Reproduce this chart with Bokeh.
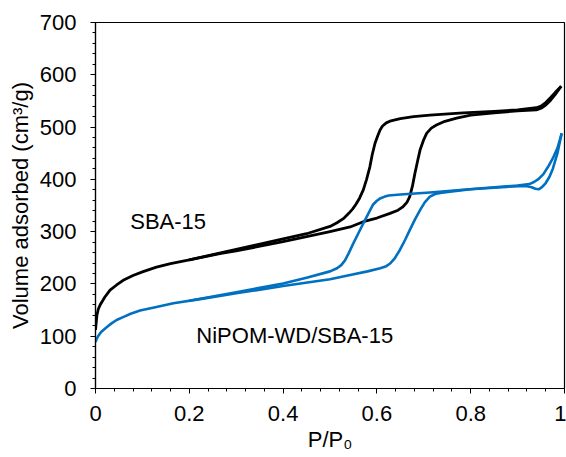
from bokeh.plotting import figure
from bokeh.models import Range1d, FixedTicker, Label
from bokeh.embed import file_html
from bokeh.resources import INLINE

# SBA-15 adsorption branch
sba_ads_x = [0.0, 0.003, 0.006, 0.01, 0.02, 0.031, 0.045, 0.059, 0.08, 0.1, 0.13, 0.16,
             0.2, 0.265, 0.3, 0.4, 0.5, 0.543, 0.571, 0.6, 0.628, 0.645, 0.656, 0.664,
             0.67, 0.676, 0.681, 0.687, 0.692, 0.699, 0.706, 0.716, 0.727, 0.745, 0.77,
             0.8, 0.85, 0.9, 0.94, 0.95, 0.96, 0.97, 0.98, 0.993]
sba_ads_y = [112, 140, 152, 160, 175, 188, 198, 207, 216, 223, 232, 239,
             246, 258, 263, 281, 300, 309, 319, 326, 335, 341, 348, 356,
             367, 388, 411, 436, 456, 474, 488, 498, 504, 511, 517,
             523, 527, 531, 533, 536, 542, 551, 562, 578]
# SBA-15 desorption branch
sba_des_x = [0.993, 0.98, 0.97, 0.96, 0.95, 0.94, 0.9, 0.85, 0.784, 0.713, 0.678, 0.65,
             0.63, 0.62, 0.612, 0.607, 0.602, 0.596, 0.59, 0.585, 0.578, 0.571, 0.563,
             0.555, 0.548, 0.54, 0.53, 0.515, 0.5, 0.45, 0.4, 0.3, 0.25, 0.2]
sba_des_y = [578, 566, 556, 547, 540, 537, 533, 530, 527, 523, 520, 516,
             512, 508, 502, 495, 484, 469, 447, 424, 400, 380, 364,
             352, 343, 335, 326, 317, 310, 296, 286, 266, 256, 246]
# NiPOM-WD/SBA-15 adsorption branch
ni_ads_x = [0.0, 0.003, 0.007, 0.012, 0.017, 0.025, 0.035, 0.045, 0.06, 0.075, 0.095,
            0.13, 0.166, 0.223, 0.265, 0.3, 0.4, 0.5, 0.543, 0.58, 0.607, 0.62, 0.628,
            0.638, 0.649, 0.66, 0.67, 0.681, 0.692, 0.702, 0.713, 0.724, 0.735, 0.76,
            0.8, 0.85, 0.9, 0.92, 0.93, 0.938, 0.945, 0.952, 0.96, 0.968, 0.975, 0.985,
            0.994]
ni_ads_y = [89, 96, 102, 108, 112, 118, 125, 131, 137, 143, 149,
            156, 163, 171, 177, 182, 196, 209, 217, 224, 230, 234, 239,
            249, 265, 284, 303, 323, 341, 356, 367, 372, 374, 377,
            381, 384, 387, 387, 385, 382, 381, 385, 393, 405, 420, 450,
            488]
# NiPOM-WD/SBA-15 desorption branch
ni_des_x = [0.994, 0.985, 0.975, 0.965, 0.955, 0.945, 0.935, 0.925, 0.9, 0.85, 0.784,
            0.713, 0.65, 0.625, 0.617, 0.608, 0.6, 0.592, 0.582, 0.571, 0.56, 0.55, 0.54,
            0.532, 0.524, 0.515, 0.5, 0.45, 0.4, 0.3, 0.2]
ni_des_y = [488, 460, 440, 424, 410, 401, 395, 391, 388, 385, 380,
            375, 371, 369, 367, 364, 359, 352, 335, 316, 296, 278, 259,
            245, 236, 230, 224, 212, 201, 184, 168]

x_ticks = [0, 0.2, 0.4, 0.6, 0.8, 1.0]
x_tick_labels = ["0", "0.2", "0.4", "0.6", "0.8", "1"]
y_ticks = [0, 100, 200, 300, 400, 500, 600, 700]

FONT = "Liberation Sans"
FS = "22px"
BLUE = "#0070C0"

p = figure(width=566, height=457, output_backend="svg", toolbar_location=None,
           x_range=Range1d(0, 1), y_range=Range1d(0, 700),
           min_border_left=95, min_border_right=2, min_border_top=22, min_border_bottom=69)
p.grid.visible = False
p.outline_line_color = "black"
p.outline_line_width = 1.2
p.background_fill_color = "white"
p.border_fill_color = "white"

p.line(sba_ads_x, sba_ads_y, line_color="black", line_width=2.8, line_join="round")
p.line(sba_des_x, sba_des_y, line_color="black", line_width=2.8, line_join="round")
p.line(ni_ads_x, ni_ads_y, line_color=BLUE, line_width=2.6, line_join="round")
p.line(ni_des_x, ni_des_y, line_color=BLUE, line_width=2.6, line_join="round")

minor_x = [round(i * 0.04, 2) for i in range(26)]
minor_y = [i * 20 for i in range(36)]
p.xaxis.ticker = FixedTicker(ticks=x_ticks, minor_ticks=minor_x)
p.yaxis.ticker = FixedTicker(ticks=y_ticks, minor_ticks=minor_y)
p.xaxis.major_label_overrides = {t: l for t, l in zip(x_ticks, x_tick_labels)}

for ax in (p.xaxis[0], p.yaxis[0]):
    ax.axis_line_color = "black"
    ax.axis_line_width = 1.2
    ax.major_tick_line_color = "black"
    ax.minor_tick_line_color = "black"
    ax.major_tick_in = 0
    ax.major_tick_out = 5
    ax.minor_tick_in = 0
    ax.minor_tick_out = 3
    ax.major_label_text_font = FONT
    ax.major_label_text_font_size = FS
    ax.major_label_text_color = "black"
    ax.axis_label_text_font = FONT
    ax.axis_label_text_font_size = FS
    ax.axis_label_text_font_style = "normal"
    ax.axis_label_text_color = "black"

p.xaxis.axis_label = "P/P\u2080"
p.yaxis.axis_label = "Volume adsorbed (cm\u00b3/g)"
p.xaxis.major_label_standoff = 12
p.xaxis.axis_label_standoff = 3
p.yaxis.major_label_standoff = 14
p.yaxis.axis_label_standoff = 4

p.add_layout(Label(x=0.074, y=320, text="SBA-15", text_font=FONT, text_font_size=FS,
                   text_color="black", text_baseline="alphabetic"))
p.add_layout(Label(x=0.215, y=102, text="NiPOM-WD/SBA-15", text_font=FONT, text_font_size=FS,
                   text_color="black", text_baseline="alphabetic"))

open("out.html", "w").write(file_html(p, INLINE))
